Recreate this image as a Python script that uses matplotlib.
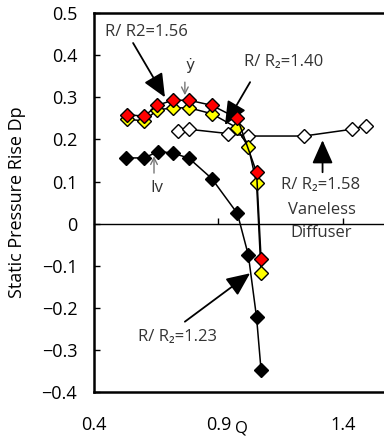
import matplotlib
matplotlib.use("Agg")
import matplotlib.pyplot as plt

plt.rcParams['font.family'] = ['Open Sans', 'DejaVu Sans']

# R/R2 = 1.56 (red)
q_156 = [0.531, 0.602, 0.654, 0.716, 0.782, 0.873, 0.976, 1.053, 1.071]
dp_156 = [0.259, 0.255, 0.281, 0.293, 0.293, 0.281, 0.250, 0.122, -0.083]

# R/R2 = 1.40 (yellow)
q_140 = [0.531, 0.602, 0.654, 0.716, 0.782, 0.873, 0.973, 1.020, 1.053, 1.071]
dp_140 = [0.248, 0.244, 0.270, 0.275, 0.275, 0.261, 0.228, 0.182, 0.096, -0.117]

# R/R2 = 1.58 vaneless diffuser (white)
q_158 = [0.736, 0.782, 0.937, 1.020, 1.243, 1.435, 1.492]
dp_158 = [0.220, 0.224, 0.214, 0.208, 0.208, 0.224, 0.233]

# R/R2 = 1.23 (black)
q_123 = [0.529, 0.602, 0.656, 0.716, 0.782, 0.873, 0.976, 1.020, 1.053, 1.071]
dp_123 = [0.156, 0.156, 0.171, 0.168, 0.155, 0.107, 0.024, -0.075, -0.223, -0.348]

yticks = [0.5, 0.4, 0.3, 0.2, 0.1, 0, -0.1, -0.2, -0.3, -0.4]
ytick_labels = ['0.5', '0.4', '0.3', '0.2', '0.1', '0', '\u22120.1', '\u22120.2', '\u22120.3', '\u22120.4']
xticks = [0.4, 0.9, 1.4]
xtick_labels = ['0.4', '0.9', '1.4']

fig = plt.figure(figsize=(3.84, 4.37), dpi=100)
ax = fig.add_axes([0.2448, 0.103, 0.778, 0.867])
ax.set_xlim(0.4, 1.6)
ax.set_ylim(-0.4, 0.5)

mk = dict(marker='D', markersize=7, markeredgecolor='black', markeredgewidth=1.0,
          color='black', lw=1.1)
ax.plot(q_123, dp_123, markerfacecolor='black', zorder=3, **mk)
ax.plot(q_158, dp_158, markerfacecolor='white', zorder=4, **mk)
ax.plot(q_140, dp_140, markerfacecolor='#ffff00', zorder=5, **mk)
ax.plot(q_156, dp_156, markerfacecolor='#ff0000', zorder=6, **mk)

# frame
ax.spines['right'].set_visible(False)
for s in ['left', 'top']:
    ax.spines[s].set_linewidth(1.8)
ax.spines['bottom'].set_position(('data', 0))
ax.spines['bottom'].set_linewidth(1.0)

ax.set_yticks(yticks)
ax.set_yticklabels(ytick_labels)
ax.tick_params(axis='y', direction='in', length=4, width=1, pad=12, labelsize=13)
ax.set_xticks(xticks[1:])
ax.tick_params(axis='x', direction='in', length=4, width=1, labelbottom=False)

sec = ax.secondary_xaxis('bottom')
sec.spines['bottom'].set_linewidth(1.8)
sec.set_xticks(xticks)
sec.set_xticklabels(xtick_labels)
sec.tick_params(axis='x', length=0, pad=17, labelsize=13)

ax.set_ylabel('Static Pressure Rise Dp', fontsize=13)
ax.yaxis.set_label_coords(-0.228, 0.5)
fig.text(0.63, 0.002, 'Q', fontsize=12, ha='center', va='bottom')

tc = '#333333'
big = dict(arrowstyle='-|>,head_length=0.9,head_width=0.4', color='black', lw=1.3,
           mutation_scale=16, shrinkA=0, shrinkB=0)
thin = dict(arrowstyle='->,head_length=0.4,head_width=0.2', color='#777777', lw=1.0,
            mutation_scale=12, shrinkA=0, shrinkB=0)

ax.text(0.611, 0.455, 'R/ R2=1.56', fontsize=12, color=tc, ha='center', va='center')
ax.annotate('', xy=(0.685, 0.300), xytext=(0.557, 0.429), arrowprops=big)

ax.text(0.786, 0.372, '\u1e8f', fontsize=11, color=tc, ha='center', va='center')
ax.annotate('', xy=(0.765, 0.305), xytext=(0.765, 0.336), arrowprops=thin)

ax.text(0.653, 0.084, 'Iv', fontsize=12, color=tc, ha='center', va='center')
ax.annotate('', xy=(0.641, 0.160), xytext=(0.641, 0.120), arrowprops=thin)

ax.text(1.160, 0.384, 'R/ R\u2082=1.40', fontsize=12, color=tc, ha='center', va='center')
ax.annotate('', xy=(0.926, 0.234), xytext=(1.027, 0.336), arrowprops=big)

ax.text(1.312, 0.092, 'R/ R\u2082=1.58', fontsize=12, color=tc, ha='center', va='center')
ax.text(1.314, 0.032, 'Vaneless', fontsize=12, color=tc, ha='center', va='center')
ax.text(1.312, -0.0225, 'Diffuser', fontsize=12, color=tc, ha='center', va='center')
ax.annotate('', xy=(1.318, 0.198), xytext=(1.318, 0.122), arrowprops=big)

ax.text(0.737, -0.270, 'R/ R\u2082=1.23', fontsize=12, color=tc, ha='center', va='center')
ax.annotate('', xy=(1.027, -0.118), xytext=(0.765, -0.233), arrowprops=big)

fig.savefig('out.png', dpi=100)
